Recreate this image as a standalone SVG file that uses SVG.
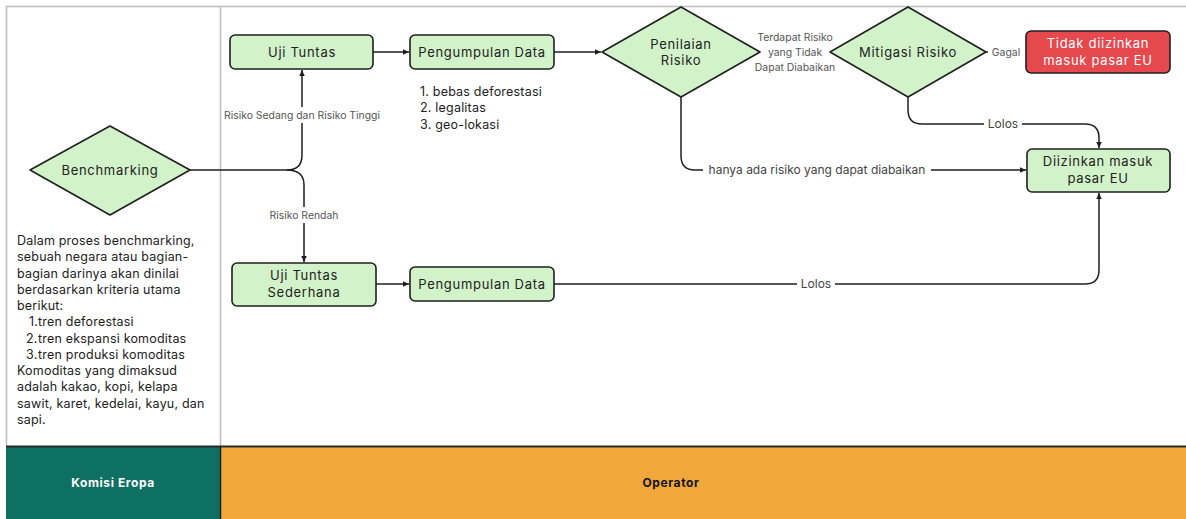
<svg xmlns="http://www.w3.org/2000/svg" width="1186" height="519" viewBox="0 0 1186 519">
<defs>
<marker id="arr" viewBox="0 0 8 8" refX="7" refY="4" markerWidth="7" markerHeight="7" markerUnits="userSpaceOnUse" orient="auto">
<path d="M0,0.8 L7,4 L0,7.2 Z" fill="#1f1f1f"/>
</marker>
<style>
.node{fill:#d2f3c9;stroke:#1f1f1f;stroke-width:1.6}
.red{fill:#e5484d;stroke:#1f1f1f;stroke-width:1.6}
.nt{font-family:Inter,"Noto Sans",sans-serif;font-size:13px;letter-spacing:0.7px;fill:#222;text-anchor:middle}
.wt{fill:#ffffff}
.lb{font-family:Inter,"Noto Sans",sans-serif;font-size:10.4px;fill:#555;text-anchor:middle}
.lb2{font-family:Inter,"Noto Sans",sans-serif;font-size:12px;fill:#444;text-anchor:middle}
.body{font-family:Inter,"Noto Sans",sans-serif;font-size:12.5px;letter-spacing:0.2px;fill:#222}
.con{fill:none;stroke:#1f1f1f;stroke-width:1.5}
.lane{font-family:Inter,"Noto Sans",sans-serif;font-size:12px;font-weight:700;letter-spacing:0.6px;text-anchor:middle}
</style>
</defs>
<rect x="0" y="0" width="1186" height="519" fill="#ffffff"/>
<g id="frame">
<line x1="6.5" y1="6.5" x2="1186" y2="6.5" stroke="#bdbdbd" stroke-width="1.5"/>
<line x1="6.5" y1="6" x2="6.5" y2="446" stroke="#bdbdbd" stroke-width="1.5"/>
<line x1="220.5" y1="6" x2="220.5" y2="446" stroke="#bdbdbd" stroke-width="1.5"/>
</g>
<g id="lane-komisi">
<rect x="6" y="446" width="214.5" height="73" fill="#0e6f63"/>
<text class="lane" x="113" y="487" fill="#ffffff">Komisi Eropa</text>
</g>
<g id="lane-operator">
<rect x="220.5" y="446" width="965.5" height="73" fill="#f0a83c"/>
<text class="lane" x="671" y="487" fill="#111111">Operator</text>
</g>
<g id="lane-lines">
<line x1="6" y1="446.5" x2="1186" y2="446.5" stroke="#2a2a2a" stroke-width="2"/>
<line x1="220.5" y1="446" x2="220.5" y2="519" stroke="#1f1f1f" stroke-width="1.5"/>
</g>

<g id="connectors">
<path class="con" d="M190,170 H287 Q302,170 302,155 V70" marker-end="url(#arr)"/>
<path class="con" d="M287,170 Q304,170 304,185 V262" marker-end="url(#arr)"/>
<path class="con" d="M373,52 H409" marker-end="url(#arr)"/>
<path class="con" d="M554,52 H601" marker-end="url(#arr)"/>
<path class="con" d="M760,52 H829" marker-end="url(#arr)"/>
<path class="con" d="M986,52 H1025" marker-end="url(#arr)"/>
<path class="con" d="M908,97 V110 Q908,124 922,124 H1085 Q1099,124 1099,138 V148" marker-end="url(#arr)"/>
<path class="con" d="M681,97 V156 Q681,170 695,170 H1026" marker-end="url(#arr)"/>
<path class="con" d="M376,284 H409" marker-end="url(#arr)"/>
<path class="con" d="M554,284 H1085 Q1099,284 1099,270 V193" marker-end="url(#arr)"/>
<g id="labels">
<rect x="224" y="107" width="156" height="16" fill="#ffffff"/>
<text class="lb" x="302" y="119">Risiko Sedang dan Risiko Tinggi</text>
<rect x="264" y="207" width="80" height="16" fill="#ffffff"/>
<text class="lb" x="304" y="219">Risiko Rendah</text>
<rect x="754" y="29" width="82" height="46" fill="#ffffff"/>
<text class="lb" x="795" y="41">Terdapat Risiko</text>
<text class="lb" x="795" y="56">yang Tidak</text>
<text class="lb" x="795" y="71">Dapat Diabaikan</text>
<rect x="988" y="44" width="37.2" height="16" fill="#ffffff"/>
<text class="lb" x="1006" y="56">Gagal</text>
<rect x="984" y="116" width="38" height="16" fill="#ffffff"/>
<text class="lb2" x="1003" y="128">Lolos</text>
<rect x="703" y="162" width="228" height="16" fill="#ffffff"/>
<text class="lb2" x="817" y="174">hanya ada risiko yang dapat diabaikan</text>
<rect x="797" y="276" width="38" height="16" fill="#ffffff"/>
<text class="lb2" x="816" y="288">Lolos</text>
</g>
</g>

<g id="node-benchmarking">
<path class="node" d="M110,126 L190,170 L110,215 L30,170 Z" stroke-linejoin="round"/>
<text class="nt" x="110" y="175">Benchmarking</text>
</g>
<g id="node-uji-tuntas">
<rect class="node" x="230" y="35" width="143" height="34" rx="5"/>
<text class="nt" x="302" y="56.5">Uji Tuntas</text>
</g>
<g id="node-pengumpulan-1">
<rect class="node" x="410" y="35" width="144" height="34" rx="5"/>
<text class="nt" x="482" y="56.5">Pengumpulan Data</text>
</g>
<g id="node-penilaian">
<path class="node" d="M681,7 L760,52 L681,97 L602,52 Z" stroke-linejoin="round"/>
<text class="nt" x="681" y="49">Penilaian</text>
<text class="nt" x="681" y="65">Risiko</text>
</g>
<g id="node-mitigasi">
<path class="node" d="M908,7 L986,52 L908,97 L830,52 Z" stroke-linejoin="round"/>
<text class="nt" x="908" y="57">Mitigasi Risiko</text>
</g>
<g id="node-tidak">
<rect class="red" x="1026" y="31" width="144" height="42" rx="5"/>
<text class="nt wt" x="1098" y="48">Tidak diizinkan</text>
<text class="nt wt" x="1098" y="65">masuk pasar EU</text>
</g>
<g id="node-diizinkan">
<rect class="node" x="1027" y="149" width="143" height="43" rx="5"/>
<text class="nt" x="1098" y="166">Diizinkan masuk</text>
<text class="nt" x="1098" y="183">pasar EU</text>
</g>
<g id="node-uji-sederhana">
<rect class="node" x="232" y="263" width="144" height="43" rx="5"/>
<text class="nt" x="304" y="280">Uji Tuntas</text>
<text class="nt" x="304" y="297">Sederhana</text>
</g>
<g id="node-pengumpulan-2">
<rect class="node" x="410" y="267" width="144" height="34" rx="5"/>
<text class="nt" x="482" y="288.5">Pengumpulan Data</text>
</g>

<g id="criteria">
<text class="body" x="420" y="96">1. bebas deforestasi</text>
<text class="body" x="420" y="112">2. legalitas</text>
<text class="body" x="420" y="129">3. geo-lokasi</text>
</g>
<g id="note">
<text class="body" x="17" y="245">Dalam proses benchmarking,</text>
<text class="body" x="17" y="261">sebuah negara atau bagian-</text>
<text class="body" x="17" y="278">bagian darinya akan dinilai</text>
<text class="body" x="17" y="294">berdasarkan kriteria utama</text>
<text class="body" x="17" y="310">berikut:</text>
<text class="body" x="29" y="326">1.</text><text class="body" x="38" y="326">tren deforestasi</text>
<text class="body" x="26" y="343">2.</text><text class="body" x="38" y="343">tren ekspansi komoditas</text>
<text class="body" x="26" y="359">3.</text><text class="body" x="38" y="359">tren produksi komoditas</text>
<text class="body" x="17" y="375">Komoditas yang dimaksud</text>
<text class="body" x="17" y="391">adalah kakao, kopi, kelapa</text>
<text class="body" x="17" y="408">sawit, karet, kedelai, kayu, dan</text>
<text class="body" x="17" y="424">sapi.</text>
</g>
</svg>
